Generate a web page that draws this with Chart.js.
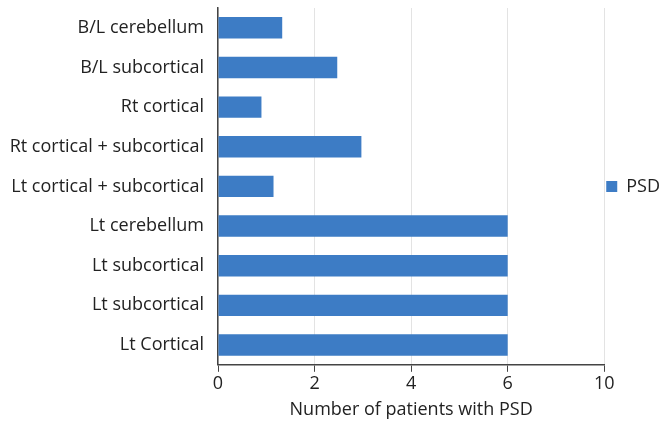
<!DOCTYPE html>
<html>
<head>
<meta charset="utf-8">
<script src="https://cdn.jsdelivr.net/npm/chart.js@4/dist/chart.umd.min.js"></script>
<style>
  body { margin: 0; background: #fff; }
</style>
</head>
<body>
<canvas id="myChart" width="665" height="422"></canvas>
<script>
const categories = [
  "B/L cerebellum",
  "B/L subcortical",
  "Rt cortical",
  "Rt cortical + subcortical",
  "Lt cortical + subcortical",
  "Lt cerebellum",
  "Lt subcortical",
  "Lt subcortical",
  "Lt Cortical"
];
const psdValues = [1.33, 2.47, 0.9, 2.97, 1.15, 6, 6, 6, 6];
// the source axis reads 0,2,4,6,10 on evenly spaced ticks
const tickLabels = ["0", "2", "4", "6", "10"];

const ctx = document.getElementById("myChart");
const font = "'Open Sans', 'Noto Sans', sans-serif";

new Chart(ctx, {
  type: "bar",
  data: {
    labels: categories,
    datasets: [{
      label: "PSD",
      data: psdValues,
      backgroundColor: "#3d7cc5",
      barPercentage: 0.54,
      categoryPercentage: 1
    }]
  },
  options: {
    responsive: false,
    animation: false,
    indexAxis: "y",
    layout: { padding: { top: 8, right: -5, left: 0, bottom: 0 } },
    plugins: {
      legend: {
        position: "right",
        fullSize: false,
        labels: {
          boxWidth: 11,
          boxHeight: 11,
          padding: 2,
          color: "#222",
          font: { family: font, size: 18 }
        }
      },
      tooltip: { enabled: false }
    },
    scales: {
      x: {
        min: 0,
        max: 8,
        ticks: {
          stepSize: 2,
          padding: 1,
          color: "#222",
          font: { family: font, size: 18 },
          callback: (v, i) => tickLabels[i]
        },
        grid: { color: "#e3e3e3", tickColor: "#444", tickLength: 7 },
        border: { color: "#444", width: 1.5 },
        title: {
          display: true,
          text: "Number of patients with PSD",
          color: "#222",
          padding: { top: 4, bottom: 1 },
          font: { family: font, size: 18 }
        }
      },
      y: {
        afterFit: (scale) => {
          scale.width = 218;
          scale.paddingTop = 0;
          scale.paddingBottom = 0;
        },
        ticks: {
          color: "#222",
          font: { family: font, size: 18 },
          padding: 6
        },
        grid: { display: false },
        border: { color: "#444", width: 1.5 }
      }
    }
  }
});
</script>
</body>
</html>
